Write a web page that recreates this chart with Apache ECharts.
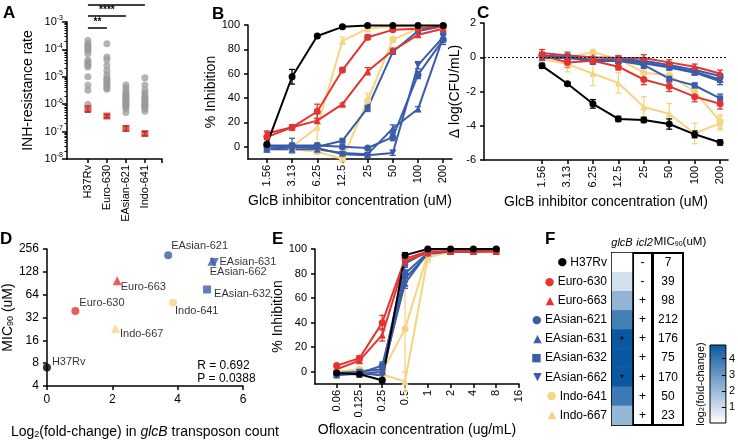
<!DOCTYPE html>
<html><head><meta charset="utf-8">
<script src="https://cdn.jsdelivr.net/npm/echarts@6/dist/echarts.min.js"></script>
<style>html,body{margin:0;padding:0;background:#fff}#c{width:738px;height:442px}</style>
</head><body><div id="c"></div>
<script>
const FONT = 'Liberation Sans, Arial, Helvetica, sans-serif';

// ---------- shared strain info ----------
const strains = ['H37Rv','Euro-630','Euro-663','EAsian-621','EAsian-631','EAsian-632','EAsian-662','Indo-641','Indo-667'];
const strainColors = ['#000000','#e3342f','#e3342f','#3b5ca8','#3b5ca8','#3b5ca8','#3b5ca8','#f7d480','#f7d480'];
const strainSymbols = ['circle','circle','triangle','circle','triangle','rect','triangle','circle','triangle'];
const strainRotate = [0,0,0,0,0,0,180,0,0];
const strainGlyphs = ['●','●','▲','●','▲','■','▼','●','▲'];
const drawOrder = [7,8,3,4,5,6,2,1,0];

// ---------- Panel A ----------
const aCategories = ['H37Rv','Euro-630','EAsian-621','Indo-641'];
const aGray = [
  [2.1e-4,1.6e-4,1.4e-4,1.2e-4,1.0e-4,9e-5,7e-5,4e-5,3.5e-5,3e-5,2.6e-5,2.3e-5,1e-5,4.9e-6,3.2e-6,9.8e-7],
  [1.6e-4,5.3e-5,4.2e-5,2.6e-5,1.7e-5,1.2e-5,9e-6,8e-6,7e-6,6e-6,5e-6,4.5e-6,4e-6,3.5e-6],
  [5e-6,4e-6,3.2e-6,2.5e-6,2.2e-6,2e-6,1.8e-6,1.6e-6,1.4e-6,1.3e-6,1.2e-6,1e-6,9e-7,8e-7,7e-7,5e-7],
  [9.3e-6,5e-6,3.2e-6,2.5e-6,2e-6,1.7e-6,1.5e-6,1.3e-6,1.1e-6,1e-6,9e-7,8e-7,7e-7,5.5e-7]
];
const aRed = [6.8e-7, 3.7e-7, 1.3e-7, 8.5e-8];
const aRedLow = [5.2e-7, 3.2e-7, 1.05e-7, 7e-8];
const aRedHigh = [8.8e-7, 4.2e-7, 1.6e-7, 1.0e-7];
const aRefLines = [1e-4, 1e-5, 1e-6, 1e-7];
const aSig = [[0,1,'**'],[0,2,'****'],[0,3,'****']];

// ---------- Panel B ----------
const bConc = ['1.56','3.13','6.25','12.5','25','50','100','200'];
const bValues = [
  [2, 57.5, 91, 98.5, 99.5, 99.5, 99.5, 99.5],
  [8, 16, 29, 63, 90, 96, 97, 99],
  [11, 16, 21.5, 35, 62, 79, 92, 97],
  [1, 1, 1, 0, -1, 8, 59, 88],
  [-2, -2, -2, -5, -6, 15, 31, 90],
  [-2, 0, 0, 5, 32, 78, 95, 99],
  [0, 0, -1, -6, -7, -5, 67, 90],
  [-2, -2, -4, -10, 38, 88, 97, 99],
  [0, 0, 16, 87, 97, 99, 99, 99]
];
const bErrors = [
  [4, 6, 1, 1, 1, 0.5, 0.5, 0.5],
  [4, 2, 6, 2, 2, 1, 1, 1],
  [2, 1, 2, 1, 3, 2, 2, 1],
  [2, 6, 2, 1, 1, 3, 3, 4],
  [2, 2, 2, 1, 1, 3, 2, 3],
  [2, 3, 2, 1, 3, 2, 2, 1],
  [2, 2, 2, 2, 2, 2, 3, 4],
  [2, 2, 2, 1, 6, 2, 1, 1],
  [2, 2, 15, 3, 1, 1, 1, 1]
];

// ---------- Panel C ----------
const cValues = [
  [-0.5, -1.55, -2.72, -3.6, -3.66, -3.9, -4.5, -4.98],
  [0.1, -0.3, -0.2, -0.55, -1.3, -1.7, -2.3, -2.72],
  [0.25, 0.1, 0.0, -0.05, -0.05, -0.3, -0.55, -0.95],
  [0.1, 0.0, -0.15, -0.1, -0.2, -0.45, -0.75, -1.1],
  [0.0, 0.05, -0.2, -0.15, -0.3, -0.55, -0.85, -1.3],
  [0.1, 0.0, -0.25, -0.2, -0.45, -1.25, -1.65, -2.4],
  [-0.05, -0.05, -0.2, -0.2, -0.35, -0.6, -0.9, -1.4],
  [0.0, 0.0, 0.3, -0.1, -0.9, -1.05, -2.0, -3.75],
  [-0.1, -0.4, -0.95, -1.5, -2.9, -3.3, -4.45, -3.85]
];
const cErrors = [
  [0.15, 0.1, 0.25, 0.15, 0.15, 0.3, 0.2, 0.15],
  [0.2, 0.3, 0.2, 0.2, 0.3, 0.3, 0.3, 0.3],
  [0.2, 0.2, 0.15, 0.15, 0.2, 0.15, 0.15, 0.2],
  [0.15, 0.15, 0.15, 0.15, 0.15, 0.15, 0.15, 0.15],
  [0.15, 0.15, 0.15, 0.15, 0.15, 0.15, 0.15, 0.15],
  [0.15, 0.15, 0.15, 0.15, 0.2, 0.2, 0.15, 0.25],
  [0.15, 0.15, 0.15, 0.15, 0.15, 0.15, 0.15, 0.2],
  [0.2, 0.2, 0.1, 0.2, 0.3, 0.3, 0.3, 0.4],
  [0.2, 0.45, 0.7, 0.6, 0.6, 0.6, 0.6, 0.4]
];

// ---------- Panel D ----------
const dFoldChange = [0, 0.87, 2.15, 3.71, 5.05, 4.9, 5.12, 3.86, 2.1];
const micValues = [7, 39, 98, 212, 176, 75, 170, 50, 23];
const dStats = ['R = 0.692', 'P = 0.0388'];

// ---------- Panel E ----------
const eConc = ['0.06','0.125','0.25','0.5','1','2','4','8','16'];
const eValues = [
  [-1, -2, -7, 95, 100, 100, 100, 100],
  [5, 11, 40, 92, 98, 98, 98, 98],
  [2, 9, 30, 90, 97, 98, 98, 98],
  [-1, -1, 5, 80, 97, 98, 98, 99],
  [-2, -2, 0, 72, 97, 98, 98, 99],
  [-1, 0, 2, 88, 98, 98, 98, 99],
  [-3, -1, -3, 76, 96, 98, 98, 99],
  [0, 2, 0, 35, 96, 98, 98, 98],
  [0, 0, -2, -8, 93, 98, 98, 98]
];
const eErrors = [
  [1, 1, 2, 2, 0.5, 0.5, 0.5, 0.5],
  [1, 2, 6, 2, 1, 1, 1, 1],
  [1, 2, 5, 2, 1, 1, 1, 1],
  [2, 1, 3, 3, 1, 1, 1, 1],
  [2, 1, 2, 4, 1, 1, 1, 1],
  [1, 1, 4, 3, 1, 1, 1, 1],
  [2, 1, 2, 3, 1, 1, 1, 1],
  [1, 1, 2, 35, 4, 1, 1, 1],
  [1, 1, 2, 8, 4, 1, 1, 1]
];

// ---------- Panel F ----------
const fGlcB = dFoldChange;
const fStars = [0,0,0,0,1,0,1,0,0];
const fIcl2 = ['-','-','+','+','+','+','+','+','+'];
const fMic = micValues;
const fScaleMax = 4.85;
const fScaleTicks = [1,2,3,4];

// ================= build =================
const AXL = {show:true, onZero:false, lineStyle:{color:'#000', width:1.5}};
const TICK = {show:true, length:4, lineStyle:{color:'#000', width:1.5}};
const LBL = {color:'#000', fontSize:11, fontFamily:FONT};
const NAME = {color:'#000', fontSize:14, fontFamily:FONT};

function errSeries(xi, yi, pts, color) {
  return {
    type:'custom', xAxisIndex:xi, yAxisIndex:yi, silent:true, data:pts, clip:false,
    encode:{x:0, y:[1,2]},
    renderItem(params, api) {
      const x = api.value(0);
      const p1 = api.coord([x, api.value(1)]), p2 = api.coord([x, api.value(2)]);
      const w = 3, st = {stroke:color, lineWidth:1.3};
      return {type:'group', children:[
        {type:'line', shape:{x1:p1[0], y1:p1[1], x2:p2[0], y2:p2[1]}, style:st},
        {type:'line', shape:{x1:p1[0]-w, y1:p1[1], x2:p1[0]+w, y2:p1[1]}, style:st},
        {type:'line', shape:{x1:p2[0]-w, y1:p2[1], x2:p2[0]+w, y2:p2[1]}, style:st}
      ]};
    }
  };
}

function curveSeries(xi, yi, values, errors) {
  const out = [];
  drawOrder.forEach(s => {
    out.push({
      type:'line', xAxisIndex:xi, yAxisIndex:yi, silent:true, clip:false,
      data: values[s].map((v,k)=>[k,v]),
      symbol: strainSymbols[s], symbolSize: strainSymbols[s]==='rect'?6:7, symbolRotate: strainRotate[s],
      lineStyle:{color:strainColors[s], width:2}, itemStyle:{color:strainColors[s]}
    });
    out.push(errSeries(xi, yi, values[s].map((v,k)=>[k, v-errors[s][k], v+errors[s][k]]), strainColors[s]));
  });
  return out;
}

const grids = [
  {left:67, top:22, width:95, height:137},   // A
  {left:248, top:25, width:204, height:134}, // B
  {left:484, top:23, width:244, height:137}, // C
  {left:40, top:249, width:203, height:137}, // D
  {left:315, top:249, width:204, height:135},// E
  {left:612, top:253, width:20, height:172, show:true, borderColor:'#000', borderWidth:2, backgroundColor:'#fff'},
  {left:633, top:253, width:19, height:172, show:true, borderColor:'#000', borderWidth:2, backgroundColor:'#fff'},
  {left:653, top:253, width:30, height:172, show:true, borderColor:'#000', borderWidth:2, backgroundColor:'#fff'},
  {left:710, top:345, width:18, height:78, show:true, borderColor:'#000', borderWidth:1,
   backgroundColor:{type:'linear', x:0, y:1, x2:0, y2:0, colorStops:[{offset:0,color:'#ffffff'},{offset:1,color:'#0a58a0'}]}}
];

const idx = n => Array.from({length:n}, (_,i)=>i);

const xAxes = [
  {gridIndex:0, type:'value', min:-1.1, max:3.9, splitLine:{show:false}, axisLine:AXL,
   axisTick:Object.assign({}, TICK, {customValues:[0,1,2,3,3.9]}),
   axisLabel:Object.assign({}, LBL, {customValues:[0,1,2,3], rotate:90, margin:6, formatter:v=>aCategories[Math.round(v)]})},
  {gridIndex:1, type:'value', min:-0.75, max:7.35, splitLine:{show:false}, axisLine:AXL,
   axisTick:Object.assign({}, TICK, {customValues:idx(8)}),
   axisLabel:Object.assign({}, LBL, {customValues:idx(8), rotate:90, margin:6, formatter:v=>bConc[Math.round(v)]}),
   name:'GlcB inhibitor concentration (uM)', nameLocation:'middle', nameGap:35, nameTextStyle:NAME},
  {gridIndex:2, type:'value', min:-2.28, max:7.31, splitLine:{show:false}, axisLine:AXL,
   axisTick:Object.assign({}, TICK, {customValues:idx(8)}),
   axisLabel:Object.assign({}, LBL, {customValues:idx(8), rotate:90, margin:6, formatter:v=>bConc[Math.round(v)]}),
   name:'GlcB inhibitor concentration (uM)', nameLocation:'middle', nameGap:35, nameTextStyle:NAME},
  {gridIndex:3, type:'value', min:0, max:6, interval:2, splitLine:{show:false}, axisLine:AXL, axisTick:TICK,
   axisLabel:Object.assign({}, LBL, {fontSize:12}),
   name:'Log{s|2}(fold-change) in {i|glcB} transposon count', nameLocation:'middle', nameGap:39,
   nameTextStyle:Object.assign({}, NAME, {rich:{s:{fontSize:9, verticalAlign:'bottom', fontFamily:FONT, color:'#000'}, i:{fontSize:14, fontStyle:'italic', fontFamily:FONT, color:'#000'}}})},
  {gridIndex:4, type:'value', min:-0.95, max:8, splitLine:{show:false}, axisLine:AXL,
   axisTick:Object.assign({}, TICK, {customValues:idx(9)}),
   axisLabel:Object.assign({}, LBL, {customValues:idx(9), rotate:90, margin:6, formatter:v=>eConc[Math.round(v)]}),
   name:'Ofloxacin concentration (ug/mL)', nameLocation:'middle', nameGap:39, nameTextStyle:NAME},
  {gridIndex:5, type:'category', data:['glcB'], position:'top', axisLine:{show:false}, axisTick:{show:false},
   axisLabel:Object.assign({}, LBL, {fontSize:11, fontStyle:'italic', margin:5, formatter:'{p|}glcB', rich:{p:{width:0}}})},
  {gridIndex:6, type:'category', data:['icl2'], position:'top', axisLine:{show:false}, axisTick:{show:false},
   axisLabel:Object.assign({}, LBL, {fontSize:11, fontStyle:'italic', margin:5, formatter:'{p|}icl2', rich:{p:{width:4}}})},
  {gridIndex:7, type:'category', data:['MIC'], position:'top', axisLine:{show:false}, axisTick:{show:false},
   axisLabel:Object.assign({}, LBL, {fontSize:11.5, margin:5, formatter:()=>'{p|}MIC{s|90}(uM)',
     rich:{p:{width:24}, s:{fontSize:7, verticalAlign:'bottom', fontFamily:FONT, color:'#000'}}})},
  {gridIndex:8, type:'category', data:[''], show:false}
];

const minorA = [];
for (let d=-8; d<-3; d++) for (let m=2; m<10; m++) minorA.push(d+Math.log10(m));

const yAxes = [
  {gridIndex:0, type:'log', logBase:10, min:1e-8, max:1e-3, splitLine:{show:false}, axisLine:AXL,
   axisTick:Object.assign({}, TICK, {length:5}),
   axisLabel:Object.assign({}, LBL, {margin:4, formatter:v=>'{b|10}{s|'+Math.round(Math.log10(v))+'}',
     rich:{b:{fontSize:11, fontFamily:FONT, color:'#000', lineHeight:14}, s:{fontSize:7, fontFamily:FONT, color:'#000', verticalAlign:'top'}}}),
   name:'INH-resistance rate', nameLocation:'middle', nameGap:32, nameTextStyle:NAME},
  {gridIndex:0, type:'value', min:-8, max:-3, position:'left', axisLine:{show:false, onZero:false}, splitLine:{show:false},
   axisLabel:{show:false}, axisTick:{show:true, length:2.5, customValues:minorA, lineStyle:{color:'#000', width:1}}},
  {gridIndex:1, type:'value', min:-10, max:100, splitLine:{show:false}, axisLine:AXL,
   axisTick:Object.assign({}, TICK, {customValues:[0,20,40,60,80,100]}),
   axisLabel:Object.assign({}, LBL, {customValues:[0,20,40,60,80,100]}),
   name:'% Inhibition', nameLocation:'middle', nameGap:20, nameTextStyle:NAME},
  {gridIndex:2, type:'value', min:-6, max:2, interval:2, splitLine:{show:false}, axisLine:AXL, axisTick:TICK, axisLabel:LBL,
   name:'Δ log(CFU/mL)', nameLocation:'middle', nameGap:15, nameTextStyle:NAME},
  {gridIndex:3, type:'log', logBase:2, min:4, max:256, splitLine:{show:false}, axisLine:AXL, axisTick:TICK,
   axisLabel:Object.assign({}, LBL, {fontSize:12}),
   name:'MIC{s|90} (uM)', nameLocation:'middle', nameGap:23,
   nameTextStyle:Object.assign({}, NAME, {rich:{s:{fontSize:9, verticalAlign:'bottom', fontFamily:FONT, color:'#000'}}})},
  {gridIndex:4, type:'value', min:-10, max:100, splitLine:{show:false}, axisLine:AXL,
   axisTick:Object.assign({}, TICK, {customValues:[0,20,40,60,80,100]}),
   axisLabel:Object.assign({}, LBL, {customValues:[0,20,40,60,80,100]}),
   name:'% Inhibition', nameLocation:'middle', nameGap:22, nameTextStyle:NAME},
  {gridIndex:5, type:'category', data:strains, inverse:true, axisLine:{show:false}, axisTick:{show:false},
   axisLabel:Object.assign({}, LBL, {fontSize:12, margin:5,
     formatter:(v,i)=>'{g'+i+'|'+strainGlyphs[i]+'} '+v,
     rich:Object.fromEntries(strains.map((s,i)=>['g'+i, {color:strainColors[i], fontSize:11, fontFamily:'DejaVu Sans'}]))})},
  {gridIndex:6, type:'category', data:strains, inverse:true, show:false},
  {gridIndex:7, type:'category', data:strains, inverse:true, show:false},
  {gridIndex:8, type:'value', min:0, max:fScaleMax, position:'right', splitLine:{show:false}, axisLine:{show:false},
   axisTick:{show:true, inside:true, length:4, customValues:fScaleTicks, lineStyle:{color:'#000', width:1}},
   axisLabel:Object.assign({}, LBL, {customValues:fScaleTicks, margin:3})},
  {gridIndex:8, type:'value', min:0, max:fScaleMax, position:'left', axisLine:{show:false}, axisTick:{show:false},
   axisLabel:{show:false}, splitLine:{show:false},
   name:'log{s|2}(fold-change)', nameLocation:'middle', nameGap:4,
   nameTextStyle:{color:'#000', fontSize:11, fontFamily:FONT, rich:{s:{fontSize:7, verticalAlign:'bottom', fontFamily:FONT, color:'#000'}}}}
];

const series = [];
// Panel A
series.push({type:'scatter', xAxisIndex:0, yAxisIndex:0, silent:true,
  data: aGray.flatMap((arr,i)=>arr.map(v=>[i,v])), symbolSize:7,
  itemStyle:{color:'#9a9a9a', opacity:0.75},
  markLine:{silent:true, symbol:'none', label:{show:false}, lineStyle:{color:'#888', type:[2,3], width:1},
    data: aRefLines.map(v=>({yAxis:v}))}
});
series.push(errSeries(0, 0, aRed.map((v,i)=>[i, aRedLow[i], aRedHigh[i]]), '#000'));
series.push({type:'scatter', xAxisIndex:0, yAxisIndex:0, silent:true, data:aRed.map((v,i)=>[i,v]),
  symbol:'rect', symbolSize:7, itemStyle:{color:'#e3342f'}});
// Panels B, C, E
series.push(...curveSeries(1, 2, bValues, bErrors));
const cSeries = curveSeries(2, 3, cValues, cErrors);
cSeries[0].markLine = {silent:true, symbol:'none', label:{show:false},
  lineStyle:{color:'#000', type:[2,2], width:1}, data:[{yAxis:0}]};
series.push(...cSeries);
series.push(...curveSeries(4, 5, eValues, eErrors));
// Panel D (label offsets, in strain order)
const dLabelOffsets = [[0,-6],[-1,-8],[-2,6],[-2,-9],[2,1],[2,5],[-10,9],[-3,8],[-1,6]];
series.push({type:'scatter', xAxisIndex:3, yAxisIndex:4, silent:true, clip:false,
  data: strains.map((s,i)=>({
    value:[dFoldChange[i], micValues[i]], symbol:strainSymbols[i], symbolRotate:strainRotate[i],
    symbolSize: strainSymbols[i]==='rect'?8:(strainSymbols[i]==='triangle'?9:8),
    itemStyle:{color:strainColors[i]},
    label:{show:true, position:'right', distance:1, offset:dLabelOffsets[i], formatter:s, color:'#000', fontSize:11, fontFamily:FONT}
  }))
});
// Panel F
series.push({type:'heatmap', xAxisIndex:5, yAxisIndex:6, silent:true,
  data: fGlcB.map((v,i)=>[0,i,v]),
  label:{show:true, formatter:p=>fStars[p.dataIndex]?'*':'', color:'#000', fontSize:11, offset:[0,2]}
});
function textCol(xi, yi, arr) {
  return {type:'custom', xAxisIndex:xi, yAxisIndex:yi, silent:true, data:arr.map((v,i)=>[0,i]),
    renderItem(params, api){
      const p = api.coord([0, api.value(1)]);
      return {type:'text', x:p[0], y:p[1], style:{text:String(arr[params.dataIndex]), textAlign:'center', textVerticalAlign:'middle',
        fill:'#000', fontSize:12, fontFamily:FONT}};
    }};
}
series.push(textCol(6, 7, fIcl2));
series.push(textCol(7, 8, fMic));

const letters = [['A',3,5],['B',212,6],['C',477,5],['D',0,231],['E',272,231],['F',545,231]];
const graphics = letters.map(l=>({type:'text', left:l[1], top:l[2], style:{text:l[0], fontSize:17, fontWeight:'bold', fontFamily:FONT, fill:'#000'}}));

const chart = echarts.init(document.getElementById('c'));
chart.setOption({
  animation:false, backgroundColor:'#fff',
  grid:grids, xAxis:xAxes, yAxis:yAxes, series:series,
  visualMap:[{type:'continuous', show:false, seriesIndex: series.findIndex(s=>s.type==='heatmap'), dimension:2,
    min:0, max:fScaleMax, inRange:{color:['#ffffff','#0a58a0']}}],
  graphic:graphics
});

// annotations positioned through the chart's own scales
const extra = [];
const sigLevels = [28, 16, 5];
aSig.forEach((s,k)=>{
  const x1 = chart.convertToPixel({xAxisIndex:0}, s[0]);
  const x2 = chart.convertToPixel({xAxisIndex:0}, s[1]);
  const y = sigLevels[k];
  extra.push({type:'line', shape:{x1:x1, y1:y, x2:x2, y2:y}, style:{stroke:'#000', lineWidth:1.5}});
  extra.push({type:'text', x:(x1+x2)/2, y:y-1, style:{text:s[2], textAlign:'center', textVerticalAlign:'bottom', fontSize:10, fontWeight:'bold', fontFamily:FONT, fill:'#000'}});
});
const statPos = chart.convertToPixel({xAxisIndex:3, yAxisIndex:4}, [4.6, 7.5]);
dStats.forEach((t,k)=>{
  extra.push({type:'text', x:statPos[0], y:statPos[1]+k*13, style:{text:t, textAlign:'left', textVerticalAlign:'middle', fontSize:12, fontFamily:FONT, fill:'#000'}});
});
chart.setOption({graphic: graphics.concat(extra)});
</script></body></html>
